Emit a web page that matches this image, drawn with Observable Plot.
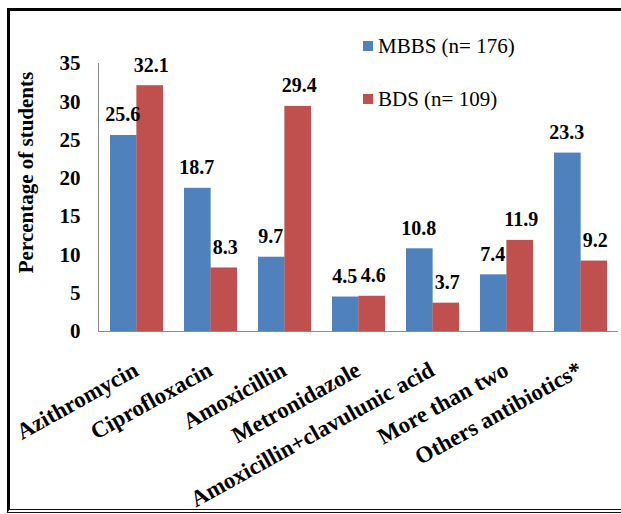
<!DOCTYPE html>
<html>
<head>
<meta charset="utf-8">
<script src="https://cdn.jsdelivr.net/npm/d3@7"></script>
<script src="https://cdn.jsdelivr.net/npm/@observablehq/plot@0.6"></script>
<style>
  html, body { margin: 0; padding: 0; background: #fff; }
  #wrap { position: relative; width: 621px; height: 514px; overflow: hidden; }
  #border { position: absolute; left: 7px; top: 8px; width: 700px; height: 505px; box-sizing: border-box;
            border-left: 3px solid #000; border-top: 3px solid #000; border-bottom: 4px double #111; }
  .leg { position: absolute; font-family: 'Liberation Serif'; font-size: 21px; color: #000;
         display: flex; align-items: center; white-space: nowrap; }
  .leg span.sw { display: inline-block; width: 10px; height: 10px; margin-right: 5px; }
  #chart svg, #chart svg text, #chart svg g { font-family: 'Liberation Serif' !important; }
</style>
</head>
<body>
<div id="wrap">
  <div id="chart"></div>
  <div id="border"></div>
  <div id="legend"></div>
</div>
<script>
const categories = ["Azithromycin", "Ciprofloxacin", "Amoxicillin", "Metronidazole", "Amoxicillin+clavulunic acid", "More than two", "Others antibiotics*"];
const seriesNames = ["MBBS (n= 176)", "BDS (n= 109)"];
const mbbs = [25.6, 18.7, 9.7, 4.5, 10.8, 7.4, 23.3];
const bds = [32.1, 8.3, 29.4, 4.6, 3.7, 11.9, 9.2];
const yTicks = [0, 5, 10, 15, 20, 25, 30, 35];
const colors = ["#4F81BD", "#C0504D"];
const yTitle = "Percentage of students";

const W = 621, H = 514;
const mL = 98, mR = 3, mT = 63, mB = 183;
const padIn = 0.29, padOut = 0.145;
const bw = d3.scaleBand().domain(categories).range([mL, W - mR]).paddingInner(padIn).paddingOuter(padOut).bandwidth();

const dataM = categories.map((c, i) => ({cat: c, v: mbbs[i]}));
const dataB = categories.map((c, i) => ({cat: c, v: bds[i]}));

const font = "Liberation Serif";

const chart = Plot.plot({
  width: W, height: H,
  marginLeft: mL, marginRight: mR, marginTop: mT, marginBottom: mB,
  style: {fontFamily: font, fontWeight: "bold", fontSize: "21px", color: "#000", background: "transparent"},
  x: {domain: categories, paddingInner: padIn, paddingOuter: padOut, axis: null},
  y: {domain: [0, 35], axis: null},
  marks: [
    Plot.barY(dataM, {x: "cat", y: "v", fill: colors[0], insetRight: bw / 2}),
    Plot.barY(dataB, {x: "cat", y: "v", fill: colors[1], insetLeft: bw / 2}),
    Plot.frame({anchor: "left", stroke: "#8c8c8c"}),
    Plot.ruleY([0], {stroke: "#8c8c8c"}),
    Plot.axisY({ticks: yTicks, tickSize: 0, tickPadding: 18, label: null, fontSize: 21, fontWeight: "bold", fontFamily: font, fill: "#000", tickFormat: d => String(d)}),
    Plot.text(dataM, {x: "cat", y: "v", text: d => d.v.toFixed(1), dx: -bw / 4 - 1, dy: -14, lineAnchor: "bottom", fontSize: 20, fontWeight: "bold", fontFamily: font, fill: "#000"}),
    Plot.text(dataB, {x: "cat", y: "v", text: d => d.v.toFixed(1), dx: bw / 4 + 1, dy: -14, lineAnchor: "bottom", fontSize: 20, fontWeight: "bold", fontFamily: font, fill: "#000"}),
    Plot.text(categories, {x: d => d, text: d => d, frameAnchor: "bottom", dy: 43, dx: 3, rotate: -29, textAnchor: "end", lineAnchor: "bottom", fontSize: 23, fontWeight: "bold", fontFamily: font, fill: "#000"}),
    Plot.text([yTitle], {text: d => d, frameAnchor: "left", dx: -72, dy: -25, rotate: -90, textAnchor: "middle", lineAnchor: "middle", fontSize: 21, fontWeight: "bold", fontFamily: font, fill: "#000"})
  ]
});
document.getElementById("chart").appendChild(chart);

const legendTops = [46, 99];
const legend = document.getElementById("legend");
seriesNames.forEach((name, i) => {
  const d = document.createElement("div");
  d.className = "leg";
  d.style.left = "363px";
  d.style.top = (legendTops[i] - 13) + "px";
  d.style.height = "26px";
  d.innerHTML = `<span class="sw" style="background:${colors[i]}"></span>`;
  d.appendChild(document.createTextNode(name));
  legend.appendChild(d);
});
</script>
</body>
</html>
